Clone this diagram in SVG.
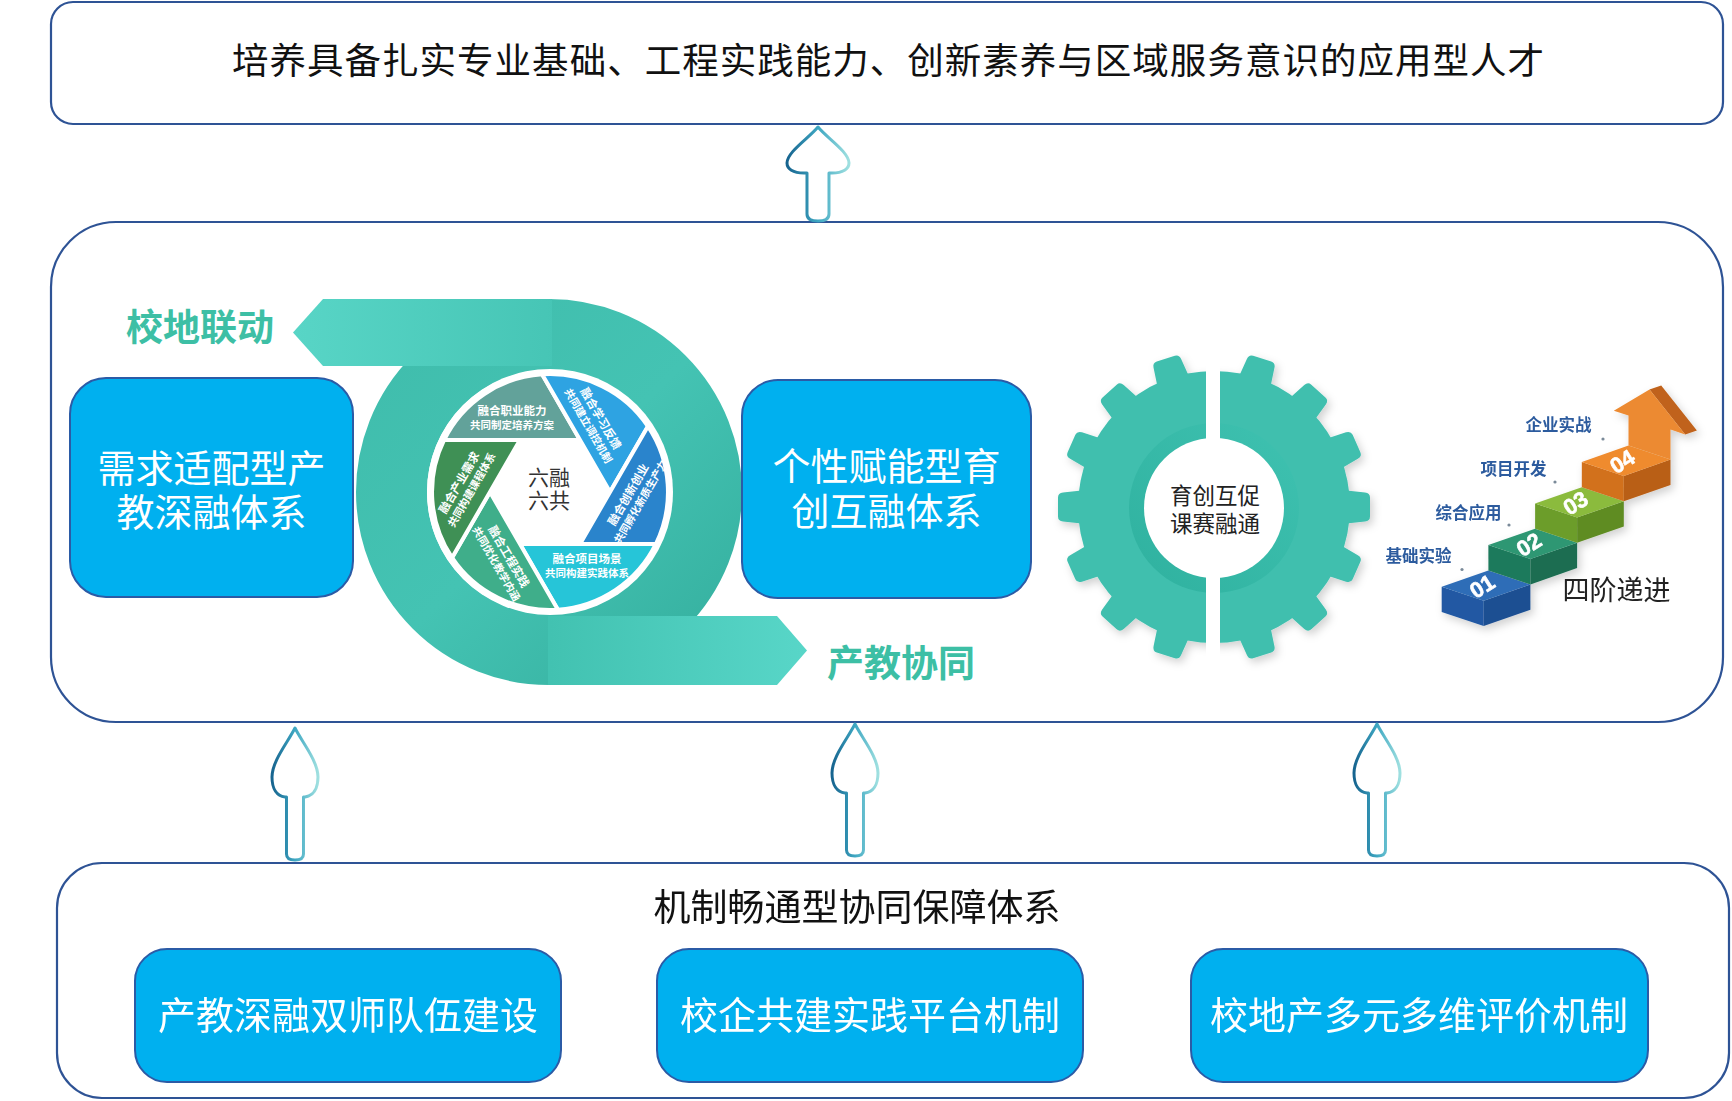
<svg xmlns="http://www.w3.org/2000/svg" width="1732" height="1101" viewBox="0 0 1732 1101">
<defs>
<style>
.frame{fill:#fff;stroke:#2e5395;stroke-width:2.2}
.bluebox{fill:#00b0ef;stroke:#2b5ba6;stroke-width:2}
.cjk{font-family:'Noto Sans CJK SC','Microsoft YaHei',sans-serif;text-anchor:middle}
.wt{fill:#fff;font-size:38px}
.teal{fill:#3dbfa5;font-size:37px;font-weight:bold}
.blade{stroke:#fff;stroke-width:4;stroke-linejoin:round}
.bt1{fill:#fff;font-size:11.5px;font-weight:bold}
.bt2{fill:#fff;font-size:10.5px;font-weight:bold}
.lbl{fill:#2c5b9e;font-size:16.5px;font-weight:bold}
.num{font-family:'Liberation Sans',Arial,sans-serif;font-weight:bold;font-size:22px;fill:#fff;stroke:#fff;stroke-width:0.6;text-anchor:middle}
.arrow{fill:#fff;stroke:url(#arrowStroke);stroke-width:3;stroke-linejoin:round}
.dot{fill:#7a8a99}
</style>
<linearGradient id="arrowStroke" x1="0" y1="0" x2="1" y2="0">
<stop offset="0" stop-color="#17648f"/>
<stop offset="0.5" stop-color="#3ea7c2"/>
<stop offset="1" stop-color="#9fe0e0"/>
</linearGradient>
<linearGradient id="ringGrad" gradientUnits="userSpaceOnUse" x1="360" y1="300" x2="740" y2="690">
<stop offset="0" stop-color="#3fbcab"/>
<stop offset="0.5" stop-color="#44c3b3"/>
<stop offset="1" stop-color="#33ad9c"/>
</linearGradient>
<linearGradient id="bandTop" gradientUnits="userSpaceOnUse" x1="293" y1="0" x2="560" y2="0">
<stop offset="0" stop-color="#58d5c6"/>
<stop offset="1" stop-color="#46c5b5"/>
</linearGradient>
<linearGradient id="bandBot" gradientUnits="userSpaceOnUse" x1="550" y1="0" x2="807" y2="0">
<stop offset="0" stop-color="#42c2b1"/>
<stop offset="1" stop-color="#58d6c8"/>
</linearGradient>
<linearGradient id="gearGrad" gradientUnits="userSpaceOnUse" x1="1090" y1="640" x2="1340" y2="370">
<stop offset="0" stop-color="#40bfae"/>
<stop offset="1" stop-color="#76dbcf"/>
</linearGradient>
<linearGradient id="ringDark" gradientUnits="userSpaceOnUse" x1="1130" y1="590" x2="1300" y2="420">
<stop offset="0" stop-color="#2fb19f"/>
<stop offset="1" stop-color="#3fc2b1"/>
</linearGradient>
<linearGradient id="arrowOrange" gradientUnits="userSpaceOnUse" x1="1612" y1="0" x2="1690" y2="0">
<stop offset="0" stop-color="#ec8a30"/>
<stop offset="1" stop-color="#d7731f"/>
</linearGradient>
<filter id="soft" x="-20%" y="-20%" width="140%" height="140%">
<feDropShadow dx="3" dy="4" stdDeviation="4" flood-color="#000" flood-opacity="0.18"/>
</filter>
<path id="tooth" d="M-17,-128 L-14.5,-151 Q-14,-156 -9.5,-156 L9.5,-156 Q14,-156 14.5,-151 L17,-128 Z"/>
<path id="bladeShape" d="M30,-52 L-105.9,-52 A118,118 0 0 1 -7.9,-117.7 Z"/>
<path id="arrowSmall" d="M0,0 C7,14 23,33 23,49 C23,61 18,68 10,69 L8.5,69 L8.5,126 Q8.5,132 0,132 Q-8.5,132 -8.5,126 L-8.5,69 L-10,69 C-18,68 -23,61 -23,49 C-23,33 -7,14 0,0 Z"/>
</defs>

<g id="node-goal">
<rect class="frame" x="51" y="2" width="1672" height="122" rx="22"/>
<text class="cjk" x="888" y="74" font-size="36.5" fill="#111" textLength="1312" lengthAdjust="spacing">培养具备扎实专业基础、工程实践能力、创新素养与区域服务意识的应用型人才</text>
</g>

<g id="node-core">
<rect class="frame" x="51" y="222" width="1672" height="500" rx="65"/>
</g>

<g id="node-cycle">
<circle cx="549" cy="492" r="157.5" fill="none" stroke="url(#ringGrad)" stroke-width="71"/>
<polygon points="323,299 552,299 552,366 323,366 293,332.5" fill="url(#bandTop)"/>
<polygon points="548,616 777,616 807,650.5 777,685 548,685" fill="url(#bandBot)"/>
<text class="cjk teal" x="200" y="341">校地联动</text>
<text class="cjk teal" x="901" y="677">产教协同</text>
<circle cx="550" cy="492" r="123" fill="#fff"/>
<g transform="translate(550,492)">
<use href="#bladeShape" class="blade" fill="#62a29a"/>
<use href="#bladeShape" class="blade" fill="#2ea3e2" transform="rotate(60)"/>
<use href="#bladeShape" class="blade" fill="#2a84cc" transform="rotate(120)"/>
<use href="#bladeShape" class="blade" fill="#26c5d8" transform="rotate(180)"/>
<use href="#bladeShape" class="blade" fill="#3fae8a" transform="rotate(240)"/>
<use href="#bladeShape" class="blade" fill="#3f9055" transform="rotate(300)"/>
</g>
<g class="cjk">
<g transform="translate(512,418)"><text class="bt1" y="-2.6">融合职业能力</text><text class="bt2" y="11.4">共同制定培养方案</text></g>
<g transform="translate(595,422) rotate(60)"><text class="bt1" y="-2.6">融合学习反馈</text><text class="bt2" y="11.4">共同建立调控机制</text></g>
<g transform="translate(634,498) rotate(-60)"><text class="bt1" y="-2.6">融合创新创业</text><text class="bt2" y="11.4">共同孵化新质生产力</text></g>
<g transform="translate(587,566)"><text class="bt1" y="-2.6">融合项目场景</text><text class="bt2" y="11.4">共同构建实践体系</text></g>
<g transform="translate(503,560) rotate(60)"><text class="bt1" y="-2.6">融合工程实践</text><text class="bt2" y="11.4">共同优化教学内涵</text></g>
<g transform="translate(465,486) rotate(-60)"><text class="bt1" y="-2.6">融合产业需求</text><text class="bt2" y="11.4">共同构建课程体系</text></g>
<text x="549" y="485" font-size="21" fill="#333">六融</text>
<text x="549" y="508" font-size="21" fill="#333">六共</text>
</g>
</g>

<g id="node-demand">
<rect class="bluebox" x="70" y="378" width="283" height="219" rx="36"/>
<text class="cjk wt" x="211.5" y="482">需求适配型产</text>
<text class="cjk wt" x="211.5" y="526">教深融体系</text>
</g>

<g id="node-personal">
<rect class="bluebox" x="742" y="380" width="289" height="218" rx="36"/>
<text class="cjk wt" x="886.5" y="480" font-size="37.5">个性赋能型育</text>
<text class="cjk wt" x="886.5" y="525" font-size="37.5">创互融体系</text>
</g>

<g id="node-gear">
<g filter="url(#soft)">
<g transform="translate(1214,507)" fill="url(#gearGrad)">
<circle r="136"/>
<use href="#tooth" transform="rotate(18)"/>
<use href="#tooth" transform="rotate(42)"/>
<use href="#tooth" transform="rotate(66)"/>
<use href="#tooth" transform="rotate(90)"/>
<use href="#tooth" transform="rotate(114)"/>
<use href="#tooth" transform="rotate(138)"/>
<use href="#tooth" transform="rotate(162)"/>
<use href="#tooth" transform="rotate(-18)"/>
<use href="#tooth" transform="rotate(-42)"/>
<use href="#tooth" transform="rotate(-66)"/>
<use href="#tooth" transform="rotate(-90)"/>
<use href="#tooth" transform="rotate(-114)"/>
<use href="#tooth" transform="rotate(-138)"/>
<use href="#tooth" transform="rotate(-162)"/>
</g>
</g>
<circle cx="1214" cy="508" r="85" fill="url(#ringDark)"/>
<circle cx="1214" cy="508" r="70" fill="#fff"/>
<rect x="1206" y="340" width="14" height="340" fill="#fff"/>
<text class="cjk" x="1215" y="503.5" font-size="22.5" fill="#222">育创互促</text>
<text class="cjk" x="1215" y="531.5" font-size="22.5" fill="#222">课赛融通</text>
</g>

<g id="node-stairs">
<g filter="url(#soft)">
<g transform="translate(1441.7,586.7)">
<polygon points="0,0 42,14 42,39.3 0,25.3" fill="#2058a3"/>
<polygon points="42,14 88.7,-2.3 88.7,23 42,39.3" fill="#1d4f92"/>
<polygon points="0,0 42,14 88.7,-2.3 46.7,-16.3" fill="#2f6db7"/>
<text class="num" transform="translate(44.5,6) rotate(-32)">01</text>
</g>
<g transform="translate(1488.4,545.1)">
<polygon points="0,0 42,14 42,39.3 0,25.3" fill="#1f7a5b"/>
<polygon points="42,14 88.7,-2.3 88.7,23 42,39.3" fill="#1b6d51"/>
<polygon points="0,0 42,14 88.7,-2.3 46.7,-16.3" fill="#2e9773"/>
<text class="num" transform="translate(44.5,6) rotate(-32)">02</text>
</g>
<g transform="translate(1535.1,503.5)">
<polygon points="0,0 42,14 42,39.3 0,25.3" fill="#6c9d2a"/>
<polygon points="42,14 88.7,-2.3 88.7,23 42,39.3" fill="#5f8c24"/>
<polygon points="0,0 42,14 88.7,-2.3 46.7,-16.3" fill="#8bbb3e"/>
<text class="num" transform="translate(44.5,6) rotate(-32)">03</text>
</g>
<g transform="translate(1581.8,461.9)">
<polygon points="0,0 42,14 42,39.3 0,25.3" fill="#d2711d"/>
<polygon points="42,14 88.7,-2.3 88.7,23 42,39.3" fill="#b95f15"/>
<polygon points="67.7,-72.3 103.4,-27.4 115.1,-31.5 79.4,-76.4" fill="#c0621a"/>
<polygon points="46.7,-16.3 46.7,-46.3 32,-51.2 67.7,-72.3 103.4,-27.4 88.7,-32.3 88.7,-2.3" fill="url(#arrowOrange)"/>
<polygon points="0,0 42,14 88.7,-2.3 46.7,-16.3" fill="#ef8b2f"/>
<text class="num" transform="translate(44.5,6) rotate(-32)">04</text>
</g>
</g>
<circle class="dot" cx="1462" cy="569.5" r="1.6"/>
<circle class="dot" cx="1509" cy="525" r="1.6"/>
<circle class="dot" cx="1555" cy="482" r="1.6"/>
<circle class="dot" cx="1603" cy="439" r="1.6"/>
<text class="cjk lbl" x="1418.5" y="562.3">基础实验</text>
<text class="cjk lbl" x="1468.5" y="519.3">综合应用</text>
<text class="cjk lbl" x="1513.5" y="475.3">项目开发</text>
<text class="cjk lbl" x="1558.5" y="431.3">企业实战</text>
<text class="cjk" x="1616.5" y="600" font-size="27" fill="#222">四阶递进</text>
</g>

<g id="node-support">
<rect class="frame" x="57" y="863" width="1672" height="235" rx="45"/>
<text class="cjk" x="857" y="921" font-size="37" fill="#111">机制畅通型协同保障体系</text>
<g id="node-teachers">
<rect class="bluebox" x="135" y="949" width="426" height="133" rx="32"/>
<text class="cjk wt" x="348" y="1029">产教深融双师队伍建设</text>
</g>
<g id="node-platform">
<rect class="bluebox" x="657" y="949" width="426" height="133" rx="32"/>
<text class="cjk wt" x="870" y="1029">校企共建实践平台机制</text>
</g>
<g id="node-evaluation">
<rect class="bluebox" x="1191" y="949" width="457" height="133" rx="32"/>
<text class="cjk wt" x="1419" y="1029">校地产多元多维评价机制</text>
</g>
</g>

<g id="connectors">
<path class="arrow" transform="translate(818,127)" d="M0,0 C9,11 31,25 31,36 C31,42 25,46 14,46 L11,46 L11,87 Q11,94 0,94 Q-11,94 -11,87 L-11,46 L-14,46 C-25,46 -31,42 -31,36 C-31,25 -9,11 0,0 Z"/>
<use href="#arrowSmall" class="arrow" transform="translate(295,728)"/>
<use href="#arrowSmall" class="arrow" transform="translate(855,724)"/>
<use href="#arrowSmall" class="arrow" transform="translate(1377,724)"/>
</g>
</svg>
